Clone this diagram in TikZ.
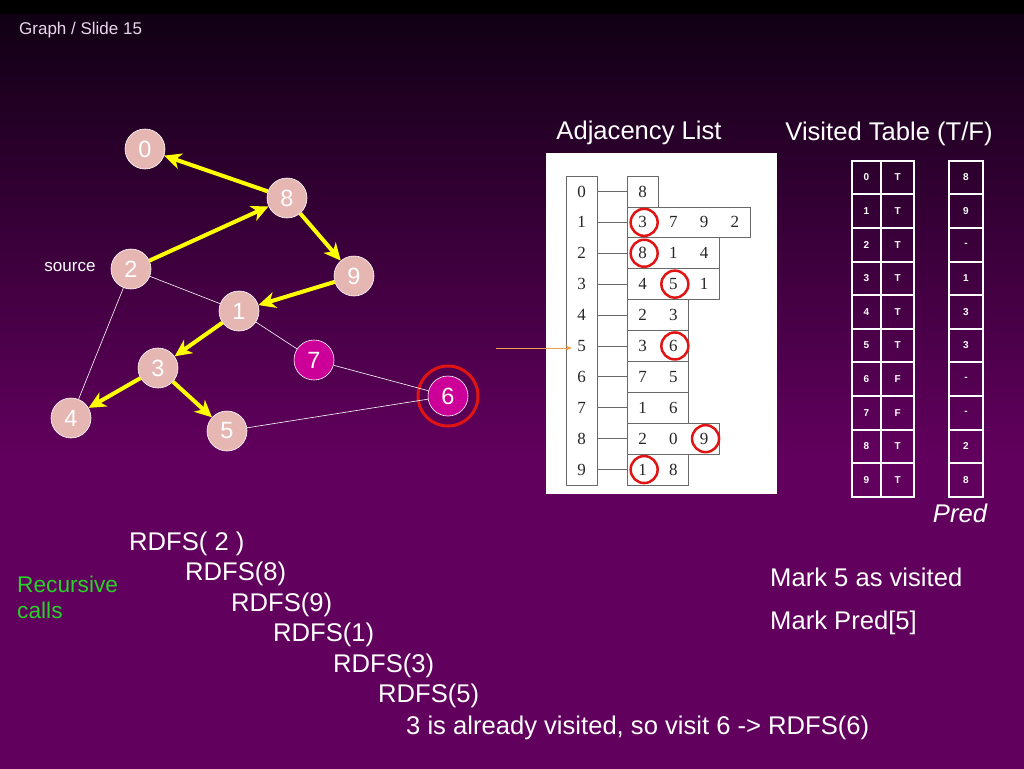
\documentclass[tikz,border=0pt]{standalone}
\usepackage{fontspec}
\setmainfont{Liberation Sans}
\newfontfamily\listfont{Liberation Serif}
\usetikzlibrary{arrows.meta}

\definecolor{SlideTop}{RGB}{14,0,18}
\definecolor{SlideBot}{RGB}{98,0,94}
\definecolor{NodePink}{RGB}{230,182,178}
\definecolor{NodeMag}{RGB}{204,0,153}
\definecolor{TreeYellow}{RGB}{255,255,0}
\definecolor{MarkRed}{RGB}{225,20,20}
\definecolor{ListGray}{RGB}{105,105,105}
\definecolor{CallGreen}{RGB}{40,210,40}
\definecolor{PtrOrange}{RGB}{240,160,70}
\definecolor{HeadPink}{RGB}{235,215,235}

\pgfdeclareverticalshading{slidebg}{100bp}{color(0bp)=(SlideBot); color(45bp)=(SlideBot); color(75bp)=(SlideTop); color(100bp)=(SlideTop)}

\def\RowH{30.9}
\def\CellW{30.7}
\def\TabH{33.6}

\begin{document}
\begin{tikzpicture}[x=1pt,y=-1pt,
  vert/.style={circle, draw=white, line width=0.6pt, fill=NodePink, minimum size=40pt,
    inner sep=0pt, text=white, font=\fontsize{23.5}{24}\selectfont},
  vertnew/.style={vert, fill=NodeMag},
  edge/.style={white, line width=0.6pt},
  tree/.style={TreeYellow, line width=4pt, -{Stealth[length=17pt,width=16pt,inset=5pt]}},
  cellbox/.style={draw=ListGray, line width=0.8pt},
  listnum/.style={inner sep=0pt, text=black!85, font=\listfont\fontsize{17}{17}\selectfont},
  redmark/.style={circle, draw=MarkRed, line width=2.5pt, minimum size=27pt, inner sep=0pt},
  tabcell/.style={draw=white, line width=2pt, minimum height=\TabH pt, inner sep=0pt,
    text=white, font=\bfseries\fontsize{10}{10}\selectfont},
  bigtxt/.style={text=white, font=\fontsize{25.6}{30}\selectfont, inner sep=0pt}]

  \useasboundingbox (0,0) rectangle (1024,768);
  % --- Fondo ---
  \shade[shading=slidebg] (0,0) rectangle (1024,768);
  \fill[black] (0,0) rectangle (1024,14);
  \node[anchor=west, inner sep=0pt, text=HeadPink, font=\fontsize{17}{17}\selectfont]
    (slide) at (19,30) {Graph / Slide 15};

  % --- Grafo ---
  \foreach \n/\x/\y in {0/145/149, 8/287/198, 2/131/269, 9/354/276, 1/239/311,
                        3/158/368, 4/71/418, 5/227/431}{
    \node[vert] (v\n) at (\x,\y) {\n};
  }
  \node[vertnew] (v7) at (314,360) {7};
  \node[vertnew] (v6) at (448,396) {6};
  \node[circle, draw=MarkRed, line width=3pt, minimum size=60pt] (ring6) at (v6) {};
  \node[text=white, inner sep=0pt, font=\fontsize{17}{17}\selectfont] (src) at (70,267) {source};

  \foreach \a/\b in {2/1, 2/4, 1/7, 7/6, 5/6, 0/8}{
    \draw[edge] (v\a) -- (v\b);
  }
  \foreach \a/\b in {8/0, 2/8, 8/9, 9/1, 1/3, 3/4, 3/5}{
    \draw[tree] (v\a) -- (v\b);
  }

  % --- Lista de adyacencia ---
  \node[bigtxt] (adjtitle) at (639,133) {Adjacency List};
  \fill[white] (546,153) rectangle (777,494);
  \draw[cellbox] (566,176) rectangle (597,485);
  \foreach \i in {0,...,9}{
    \node[listnum, minimum width=31pt, minimum height=\RowH pt] (idx\i)
      at (581.5,{176+\RowH*(\i+0.5)}) {\i};
  }
  \foreach \r/\n in {0/1, 1/4, 2/3, 3/3, 4/2, 5/2, 6/2, 7/2, 8/3, 9/2}{
    \draw[cellbox] (627.3,{176+\RowH*\r}) rectangle ++({\CellW*\n},\RowH);
  }
  \foreach \r/\c/\v in {%
    0/0/8,
    1/0/3, 1/1/7, 1/2/9, 1/3/2,
    2/0/8, 2/1/1, 2/2/4,
    3/0/4, 3/1/5, 3/2/1,
    4/0/2, 4/1/3,
    5/0/3, 5/1/6,
    6/0/7, 6/1/5,
    7/0/1, 7/1/6,
    8/0/2, 8/1/0, 8/2/9,
    9/0/1, 9/1/8
  }{
    \node[listnum, minimum width=\CellW pt, minimum height=\RowH pt] (cell\r-\c)
      at ({627.3+\CellW*(\c+0.5)},{176+\RowH*(\r+0.5)}) {\v};
  }
  \foreach \r in {0,...,9}{
    \draw[ListGray, line width=0.8pt] (idx\r.east) -- (cell\r-0.west);
  }
  \foreach \r/\c in {1/0, 2/0, 3/1, 5/1, 8/2, 9/0}{
    \node[redmark] (mark\r-\c) at ([xshift=1.5pt]cell\r-\c) {};
  }
  \coordinate (ptr) at (496,348);
  \draw[PtrOrange, line width=0.8pt, -{Stealth[length=6pt,width=5pt]}]
    (ptr) -- ([xshift=6pt]idx5.west |- ptr);

  % --- Tabla de visitados ---
  \node[bigtxt] (vistitle) at (889,134) {Visited Table (T/F)};
  \foreach \i/\t/\p in {0/T/8, 1/T/9, 2/T/-, 3/T/1, 4/T/3,
                        5/T/3, 6/F/-, 7/F/-, 8/T/2, 9/T/8}{
    \node[tabcell, minimum width=29.3pt] (key\i) at (866.3,{160.7+\TabH*(\i+0.5)}) {\i};
    \node[tabcell, minimum width=33.3pt] (flag\i) at (897.6,{160.7+\TabH*(\i+0.5)}) {\t};
    \node[tabcell, minimum width=33.4pt] (pred\i) at (966,{160.7+\TabH*(\i+0.5)}) {\p};
  }
  \draw[white, line width=2pt] (851.7,160.7) rectangle (914.3,496.7);
  \node[bigtxt, font=\itshape\fontsize{25.6}{30}\selectfont] (predlbl) at (960,513) {Pred};

  % --- Llamadas recursivas ---
  \node[anchor=north west, align=left, inner sep=0pt, text=CallGreen,
    font=\fontsize{22.7}{26}\selectfont] (calls) at (17,576) {Recursive\\calls};
  \foreach \x/\y/\t in {%
    129/544/{RDFS( 2 )},
    185/574/{RDFS(8)},
    231/605/{RDFS(9)},
    273/635/{RDFS(1)},
    333/666/{RDFS(3)},
    378/696/{RDFS(5)},
    406/728/{3 is already visited, so visit 6 -> RDFS(6)},
    770/577/{Mark 5 as visited},
    770/623/{Mark Pred[5]}
  }{
    \node[bigtxt, anchor=west] at (\x,\y) {\t};
  }
\end{tikzpicture}
\end{document}
